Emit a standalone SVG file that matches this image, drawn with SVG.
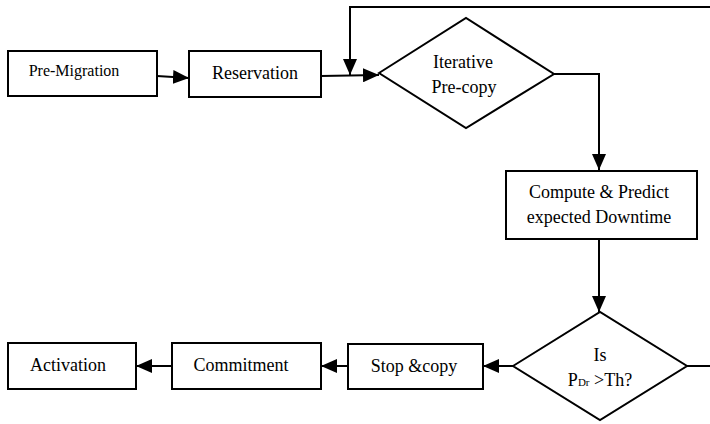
<svg xmlns="http://www.w3.org/2000/svg" width="710" height="424" viewBox="0 0 710 424">
<style>
.box{fill:#fff;stroke:#000;stroke-width:2}
.c{fill:none;stroke:#000;stroke-width:2}
text{font-family:"Liberation Serif","Times New Roman",serif;font-size:18px;fill:#000;text-anchor:middle}
</style>
<defs>
<marker id="ah" markerUnits="userSpaceOnUse" markerWidth="16" markerHeight="14" refX="16" refY="7" orient="auto">
<path d="M0,0 L16,7 L0,14 z" fill="#000"/>
</marker>
</defs>
<rect width="710" height="424" fill="#fff"/>
<g id="connectors">
<path class="c" d="M157,76 L189,78" marker-end="url(#ah)"/>
<path class="c" d="M321,76 L379,75" marker-end="url(#ah)"/>
<path class="c" d="M710,7 H350 V75" marker-end="url(#ah)"/>
<path class="c" d="M554,74 H599 V170" marker-end="url(#ah)"/>
<path class="c" d="M599,239 V312" marker-end="url(#ah)"/>
<path class="c" d="M687,366 H710"/>
<path class="c" d="M513,366 H483" marker-end="url(#ah)"/>
<path class="c" d="M348,366 H321" marker-end="url(#ah)"/>
<path class="c" d="M172,366 H136" marker-end="url(#ah)"/>
</g>
<g id="pre-migration">
<rect class="box" x="8" y="51" width="149" height="45"/>
<text x="74" y="76" style="font-size:16px">Pre-Migration</text>
</g>
<g id="reservation">
<rect class="box" x="189" y="51" width="132" height="46"/>
<text x="255" y="79">Reservation</text>
</g>
<g id="iterative-precopy">
<polygon class="box" points="379,73 466,18 554,74 466,128"/>
<text x="463" y="68">Iterative</text>
<text x="464" y="93">Pre-copy</text>
</g>
<g id="compute">
<rect class="box" x="506" y="171" width="191" height="68"/>
<text x="599" y="198">Compute &amp; Predict</text>
<text x="599" y="223">expected Downtime</text>
</g>
<g id="decision">
<polygon class="box" points="513,366 600,312 687,366 600,420"/>
<text x="600" y="361">Is</text>
<text x="600" y="386">P<tspan style="font-size:11px">Dr</tspan> &gt;Th?</text>
</g>
<g id="stop-copy">
<rect class="box" x="348" y="344" width="135" height="45"/>
<text x="414" y="372">Stop &amp;copy</text>
</g>
<g id="commitment">
<rect class="box" x="172" y="343" width="149" height="46"/>
<text x="241" y="371">Commitment</text>
</g>
<g id="activation">
<rect class="box" x="8" y="343" width="128" height="46"/>
<text x="68" y="371">Activation</text>
</g>
</svg>
